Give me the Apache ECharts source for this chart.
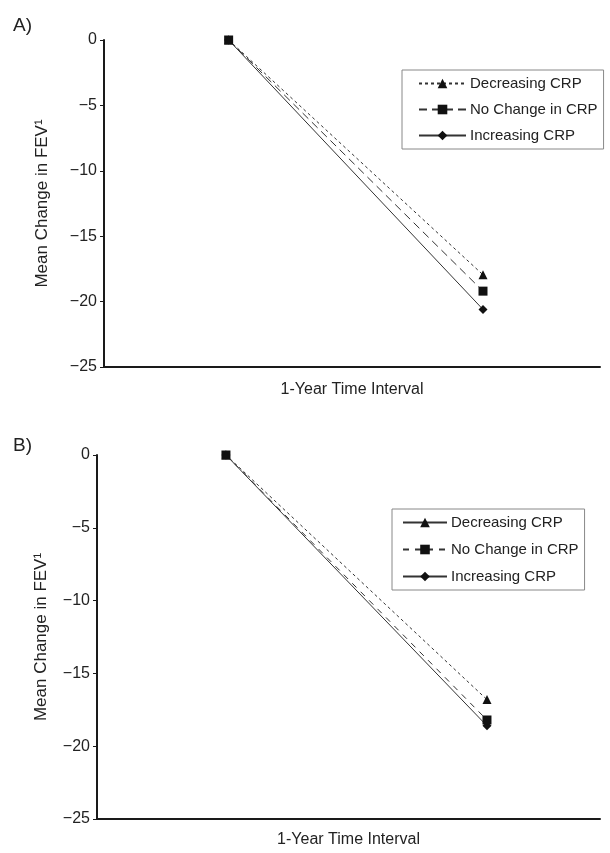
<!DOCTYPE html>
<html>
<head>
<meta charset="utf-8">
<script src="https://cdn.jsdelivr.net/npm/echarts@6/dist/echarts.min.js"></script>
<style>
html,body{margin:0;padding:0;background:#fff;width:610px;height:853px;overflow:hidden;}
#a{position:absolute;left:0;top:0;width:610px;height:426px;}
#b{position:absolute;left:0;top:426px;width:610px;height:427px;}
</style>
</head>
<body>
<div id="a"></div>
<div id="b"></div>
<script>
// ---- data ----
const timePoints = [0, 1]; // baseline, 1 year
const seriesNames = ['Decreasing CRP', 'No Change in CRP', 'Increasing CRP'];
const panelA_decreasing = [0, -17.95];
const panelA_noChange   = [0, -19.2];
const panelA_increasing = [0, -20.6];
const panelB_decreasing = [0, -16.8];
const panelB_noChange   = [0, -18.2];
const panelB_increasing = [0, -18.6];
const yMin = -25, yMax = 0, yStep = 5;
const xAxisTitle = '1-Year Time Interval';
const yAxisTitle = 'Mean Change in FEV\u00B9';

const FONT = '"Liberation Sans", Arial, Helvetica, sans-serif';
const symbols = ['triangle', 'rect', 'diamond'];
const symSizes = [9, 9, 9];

function pts(vals){ return timePoints.map((t,i)=>[t, vals[i]]); }

function makeOption(cfg){
  const values = cfg.values;
  const series = seriesNames.map((n,i)=>({
    name: n, type: 'line', data: pts(values[i]),
    symbol: symbols[i], symbolSize: symSizes[i],
    itemStyle: {color: '#111'},
    lineStyle: {color: '#333', width: 1, type: cfg.lineTypes[i]},
    emphasis: {disabled: true}, animation: false, z: 3 - i
  }));
  return {
    animation: false,
    textStyle: {fontFamily: FONT},
    title: {text: cfg.label, left: cfg.labelLeft, top: cfg.labelTop,
      textStyle: {fontFamily: FONT, fontSize: 19, fontWeight: 'normal', color: '#222'}},
    grid: {left: cfg.grid.left, top: cfg.grid.top, width: cfg.grid.width, height: cfg.grid.height},
    xAxis: {type: 'value', min: cfg.xMin, max: cfg.xMax,
      axisLine: {show: true, onZero: false, lineStyle: {color: '#1a1a1a', width: 2}},
      axisTick: {show: false}, axisLabel: {show: false}, splitLine: {show: false},
      name: xAxisTitle, nameLocation: 'middle', nameGap: cfg.xNameGap,
      nameTextStyle: {fontFamily: FONT, fontSize: 16, color: '#222'}},
    yAxis: {type: 'value', min: yMin, max: yMax, interval: yStep,
      axisLine: {show: true, onZero: false, lineStyle: {color: '#1a1a1a', width: 2}},
      axisTick: {show: true, length: 4, lineStyle: {color: '#1a1a1a', width: 1}},
      axisLabel: {fontFamily: FONT, fontSize: 16, color: '#222', margin: 7,
        formatter: v => String(v).replace('-', '\u2212')},
      splitLine: {show: false},
      name: yAxisTitle, nameLocation: 'middle', nameGap: cfg.yNameGap,
      nameTextStyle: {fontFamily: FONT, fontSize: 17, color: '#222'}},
    legend: {orient: 'vertical', left: cfg.legend.left, top: cfg.legend.top,
      itemWidth: cfg.legend.itemWidth, itemHeight: 12, itemGap: cfg.legend.gap,
      padding: cfg.legend.padding, borderColor: '#888', borderWidth: 1,
      backgroundColor: '#fff', selectedMode: false,
      textStyle: {fontFamily: FONT, fontSize: 15, color: '#222', padding: [0,0,0,-1]},
      data: seriesNames.map((n,i)=>({name: n, lineStyle: cfg.legendLines ? {type: cfg.legendLines[i]} : undefined}))},
    series: series
  };
}

const optA = makeOption({
  label: 'A)', labelLeft: 8, labelTop: 11,
  values: [panelA_decreasing, panelA_noChange, panelA_increasing],
  lineTypes: [[3,3], [8,5], 'solid'],
  grid: {left: 104, top: 40, width: 496, height: 327},
  xMin: -0.49, xMax: 1.46, xNameGap: 15, yNameGap: 53,
  legend: {left: 402, top: 70, itemWidth: 47, gap: 11, padding: [6, 6, 6, 16]}
});
const optB = makeOption({
  label: 'B)', labelLeft: 8, labelTop: 5,
  values: [panelB_decreasing, panelB_noChange, panelB_increasing],
  lineTypes: [[3,3], [6,6], 'solid'],
  legendLines: ['solid', [6,6], 'solid'],
  grid: {left: 97, top: 29, width: 503, height: 367},
  xMin: -0.494, xMax: 1.433, xNameGap: 13, yNameGap: 47,
  legend: {left: 392, top: 83, itemWidth: 44, gap: 12, padding: [6, 6, 6, 10]}
});

echarts.init(document.getElementById('a'), null, {renderer: 'canvas'}).setOption(optA);
echarts.init(document.getElementById('b'), null, {renderer: 'canvas'}).setOption(optB);
</script>
</body>
</html>
